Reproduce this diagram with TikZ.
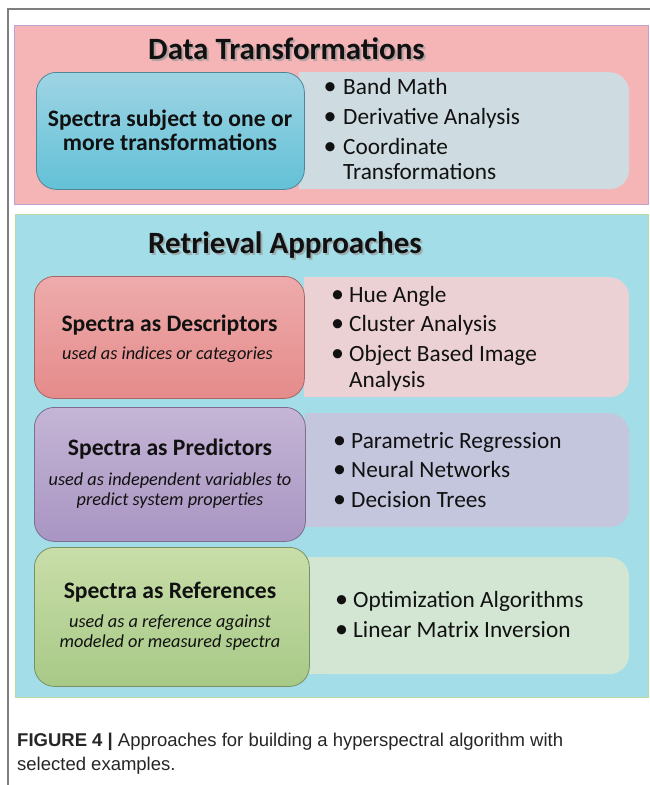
\documentclass[tikz,border=0pt]{standalone}
\usepackage{fontspec}
\setmainfont{Carlito}
\newfontfamily\capfont{Liberation Sans}
\definecolor{pinkbg}{HTML}{F5B5B7}
\definecolor{pinkedge}{HTML}{BFA0CF}
\definecolor{cyanbg}{HTML}{A3DDE8}
\definecolor{cyanedge}{HTML}{B8DCA0}
\definecolor{blueTop}{HTML}{9ED4E4}
\definecolor{blueBot}{HTML}{63C1D7}
\definecolor{blueEdge}{HTML}{4F8796}
\definecolor{dtlight}{HTML}{CEDCE2}
\definecolor{redTop}{HTML}{EEABAB}
\definecolor{redBot}{HTML}{E58B8B}
\definecolor{redEdge}{HTML}{A86565}
\definecolor{redlight}{HTML}{EBD1D3}
\definecolor{purTop}{HTML}{C5B5D5}
\definecolor{purBot}{HTML}{A895C3}
\definecolor{purEdge}{HTML}{7F6C91}
\definecolor{purlight}{HTML}{C4C6DD}
\definecolor{grnTop}{HTML}{C9DEA9}
\definecolor{grnBot}{HTML}{A7C987}
\definecolor{grnEdge}{HTML}{7A8F64}
\definecolor{grnlight}{HTML}{D2E6D3}
\definecolor{framec}{HTML}{7F7F7F}
\definecolor{ink}{HTML}{111111}
\tikzset{
  panel/.style={anchor=north west, inner sep=0pt, line width=1pt},
  box/.style={anchor=north west, inner sep=0pt, rounded corners=20pt, line width=0.8pt},
  lightbox/.style={anchor=north west, inner sep=0pt, rounded corners=20pt},
  titletext/.style={anchor=base, inner sep=0pt, text=ink, font=\fontsize{31}{34}\selectfont\bfseries},
  titleshadow/.style={anchor=base, inner sep=0pt, text=black!40, opacity=0.7, font=\fontsize{31}{34}\selectfont\bfseries},
  headtext/.style={anchor=base, inner sep=0pt, text=ink, font=\fontsize{23.6}{26}\selectfont\bfseries},
  subtext/.style={anchor=base, inner sep=0pt, text=ink, font=\fontsize{18.3}{21}\selectfont\itshape},
  bullettext/.style={anchor=base west, inner sep=0pt, text=ink, font=\fontsize{23.3}{26}\selectfont},
  bulletdot/.style={anchor=base, inner sep=0pt, text=ink, font=\fontsize{26}{28}\selectfont, yshift=-0.8pt},
  captext/.style={anchor=base west, inner sep=0pt, text=black!85, font=\capfont\fontsize{18.5}{21}\selectfont},
}
\begin{document}
\begin{tikzpicture}[x=1pt,y=-1pt]
\useasboundingbox (0,0) rectangle (650,785);
\fill[white] (0,0) rectangle (650,785);
% outer frame
\draw[framec, line width=1.2pt] (8,785) -- (8,9) -- (650,9);

% ---------- Data Transformations panel
\node[panel, fill=pinkbg, draw=pinkedge, minimum width=634pt, minimum height=179pt] (dt) at (14,25) {};
\node[titleshadow] at (288.5,61) {Data Transformations};
\node[titletext] (dttitle) at (286.5,59) {Data Transformations};

\node[lightbox, fill=dtlight, minimum width=330pt, minimum height=117pt] (dtR) at (299,72) {};
\fill[dtlight] (dtR.north west) rectangle ([xshift=30pt]dtR.south west);
\node[box, top color=blueTop, bottom color=blueBot, draw=blueEdge, minimum width=268pt, minimum height=117pt] (dtL) at (36,72) {};
\node[headtext] (dtL1) at (170,126) {Spectra subject to one or};
\node[headtext] (dtL2) at (170,150) {more transformations};
\node[bulletdot] (dtb1) at (330,94) {•};
\node[bullettext] (dtt1) at (343,94) {Band Math};
\node[bulletdot] (dtb2) at (330,124) {•};
\node[bullettext] (dtt2) at (343,124) {Derivative Analysis};
\node[bulletdot] (dtb3) at (330,154) {•};
\node[bullettext] (dtt3) at (343,154) {Coordinate};
\node[bullettext] (dtt4) at (343,179) {Transformations};

% ---------- Retrieval Approaches panel
\node[panel, fill=cyanbg, draw=cyanedge, minimum width=633pt, minimum height=483pt] (ra) at (15,214) {};
\node[titleshadow] at (287,255) {Retrieval Approaches};
\node[titletext] (ratitle) at (285,253) {Retrieval Approaches};

% Descriptors
\node[lightbox, fill=redlight, minimum width=325pt, minimum height=120pt] (descR) at (304,277) {};
\fill[redlight] (descR.north west) rectangle ([xshift=30pt]descR.south west);
\node[box, top color=redTop, bottom color=redBot, draw=redEdge, minimum width=270pt, minimum height=122pt] (descL) at (34,276) {};
\node[headtext] (descH) at (169.5,331) {Spectra as Descriptors};
\node[subtext] (descS) at (167.5,359) {used as indices or categories};
\node[bulletdot] (db1) at (337.5,302) {•};
\node[bullettext] (dt1) at (349,302) {Hue Angle};
\node[bulletdot] (db2) at (337.5,331) {•};
\node[bullettext] (dt2) at (349,331) {Cluster Analysis};
\node[bulletdot] (db3) at (337.5,361) {•};
\node[bullettext] (dt3) at (349,361) {Object Based Image};
\node[bullettext] (dt4) at (349,387) {Analysis};

% Predictors
\node[lightbox, fill=purlight, minimum width=324pt, minimum height=114pt] (predR) at (305,413) {};
\fill[purlight] (predR.north west) rectangle ([xshift=30pt]predR.south west);
\node[box, top color=purTop, bottom color=purBot, draw=purEdge, minimum width=271pt, minimum height=134pt] (predL) at (34,407) {};
\node[headtext] (predH) at (170,455) {Spectra as Predictors};
\node[subtext] (predS1) at (170,485) {used as independent variables to};
\node[subtext] (predS2) at (170,505) {predict system properties};
\node[bulletdot] (pb1) at (339.5,448) {•};
\node[bullettext] (pt1) at (351,448) {Parametric Regression};
\node[bulletdot] (pb2) at (339.5,477) {•};
\node[bullettext] (pt2) at (351,477) {Neural Networks};
\node[bulletdot] (pb3) at (339.5,507) {•};
\node[bullettext] (pt3) at (351,507) {Decision Trees};

% References
\node[lightbox, fill=grnlight, minimum width=321pt, minimum height=117pt] (refR) at (308,557) {};
\fill[grnlight] (refR.north west) rectangle ([xshift=30pt]refR.south west);
\node[box, top color=grnTop, bottom color=grnBot, draw=grnEdge, minimum width=275pt, minimum height=139pt] (refL) at (34,547) {};
\node[headtext] (refH) at (170,598) {Spectra as References};
\node[subtext] (refS1) at (170,627) {used as a reference against};
\node[subtext] (refS2) at (170,647) {modeled or measured spectra};
\node[bulletdot] (rb1) at (341.5,607) {•};
\node[bullettext] (rt1) at (353,607) {Optimization Algorithms};
\node[bulletdot] (rb2) at (341.5,637) {•};
\node[bullettext] (rt2) at (353,637) {Linear Matrix Inversion};

% ---------- Caption
\node[captext] (cap1) at (17,746) {\textbf{FIGURE 4 |} Approaches for building a hyperspectral algorithm with};
\node[captext] (cap2) at (17,770) {selected examples.};
\end{tikzpicture}
\end{document}
